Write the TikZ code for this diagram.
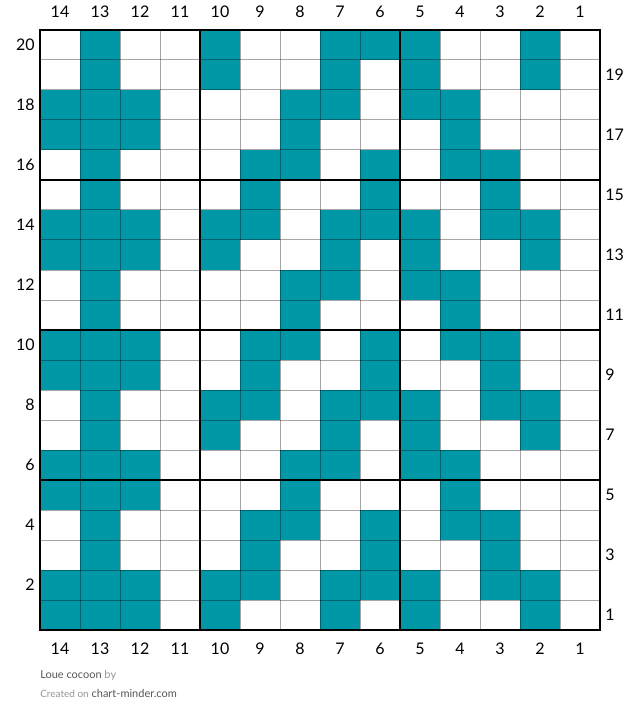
\documentclass[tikz,border=0pt]{standalone}
\usepackage{fontspec}
\setmainfont{Lato}
\usetikzlibrary{positioning}
\definecolor{stitchteal}{RGB}{0,151,167}
\definecolor{footdark}{RGB}{85,85,85}
\definecolor{footlight}{RGB}{150,150,150}

\begin{document}
\begin{tikzpicture}[x=0.75pt, y=-0.75pt, every node/.style={font=\fontsize{12}{14}\selectfont, inner sep=0pt},
  stitch/.style={fill=stitchteal}, gridline/.style={draw=black, draw opacity=.35, line width=.75pt},
  blockline/.style={draw=black, line width=1.6pt}, foot/.style={anchor=west, text=footdark, font=\fontsize{8.25}{10}\selectfont}]
\useasboundingbox (0,0) rectangle (640,723);
% filled stitches, row/columns
\foreach \r/\cols in {20/{13,10,7,6,5,2}, 19/{13,10,7,5,2}, 18/{14,13,12,8,7,5,4}, 17/{14,13,12,8,4},
  16/{13,9,8,6,4,3}, 15/{13,9,6,3}, 14/{14,13,12,10,9,7,6,5,3,2}, 13/{14,13,12,10,7,5,2},
  12/{13,8,7,5,4}, 11/{13,8,4}, 10/{14,13,12,9,8,6,4,3}, 9/{14,13,12,9,6,3},
  8/{13,10,9,7,6,5,3,2}, 7/{13,10,7,5,2}, 6/{14,13,12,8,7,5,4}, 5/{14,13,12,8,4},
  4/{13,9,8,6,4,3}, 3/{13,9,6,3}, 2/{14,13,12,10,9,7,6,5,3,2}, 1/{14,13,12,10,7,5,2}}
  \foreach \c in \cols \fill[stitch] ({40+(14-\c)*40},{30+(20-\r)*30}) rectangle ++(40,30);
% thin grid
\foreach \i in {1,...,13} \draw[gridline] ({40+\i*40},30) -- ({40+\i*40},630);
\foreach \j in {1,...,19} \draw[gridline] (40,{30+\j*30}) -- (600,{30+\j*30});
% blocks of 5
\draw[blockline] (40,30) rectangle (600,630);
\foreach \x in {200,400} \draw[blockline] (\x,30) -- (\x,630);
\foreach \y in {180,330,480} \draw[blockline] (40,\y) -- (600,\y);
% stitch and row numbers
\foreach \c in {1,...,14} {
  \node (top\c) at ({60+(14-\c)*40},12) {\c};
  \node (bot\c) at ({60+(14-\c)*40},649) {\c};
}
\foreach \r in {2,4,...,20} \node[anchor=east] (row\r) at (35,{45+(20-\r)*30}) {\r};
\foreach \r in {1,3,...,19} \node[anchor=west] (row\r) at (605,{45+(20-\r)*30}) {\r};
% footer
\node[foot] (title) at (40,675) {Loue cocoon \textcolor{footlight}{by}};
\node[foot] (credit) at (40,693) {\textcolor{footlight}{\fontsize{7.5}{9}\selectfont Created on} chart-minder.com};
\end{tikzpicture}
\end{document}
